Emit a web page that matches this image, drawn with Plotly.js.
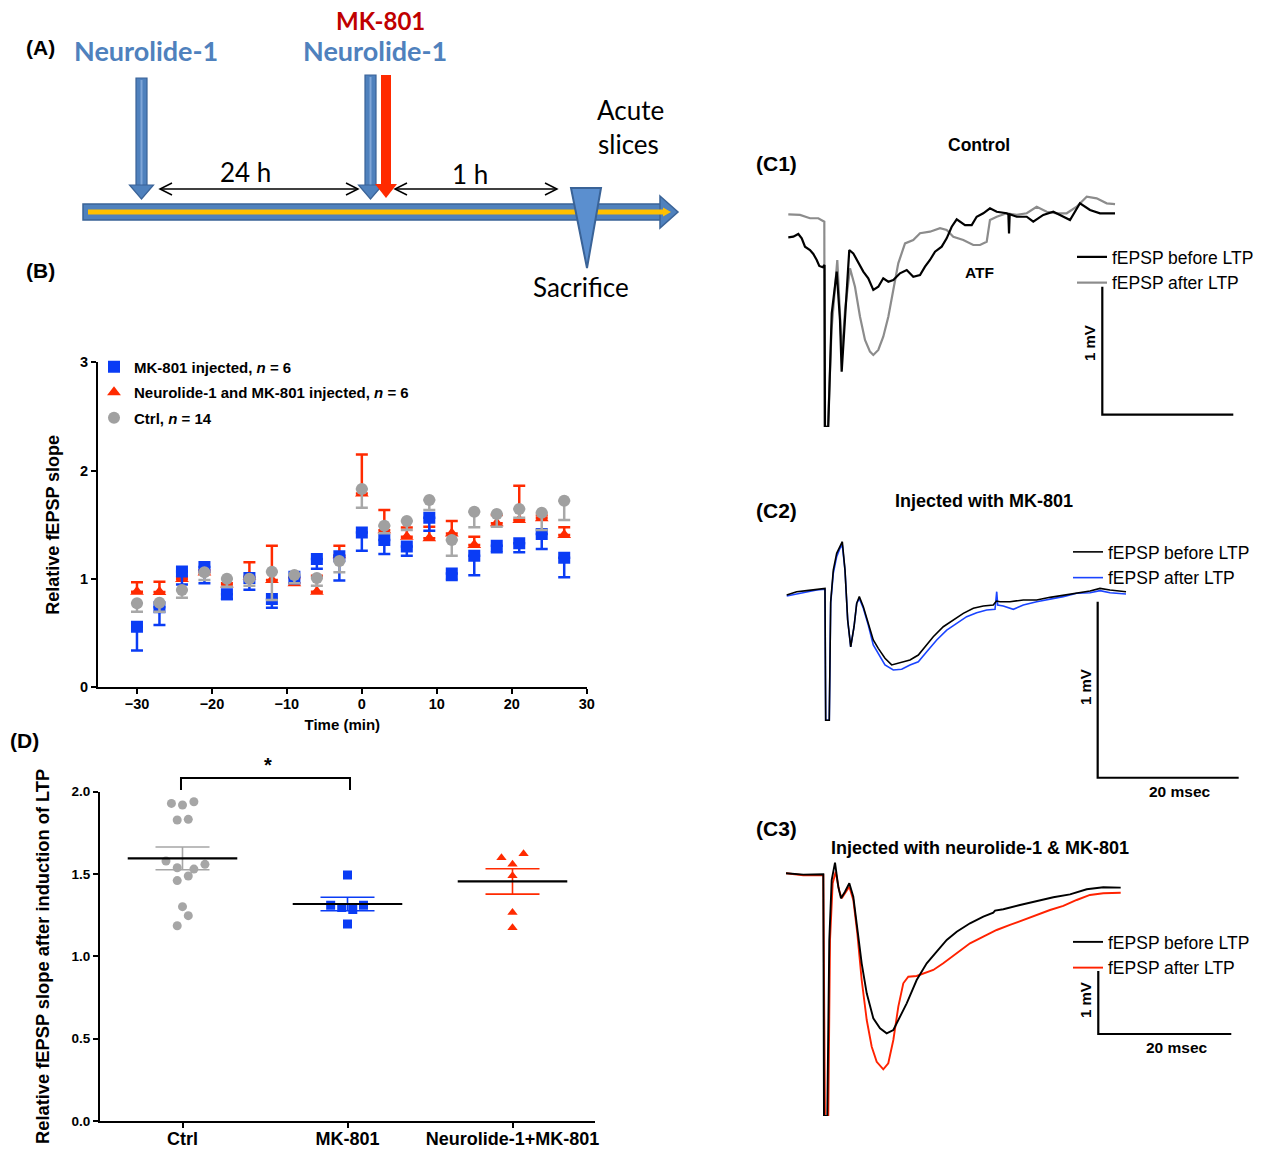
<!DOCTYPE html>
<html><head><meta charset="utf-8">
<script src="https://cdn.plot.ly/plotly-3.0.1.min.js"></script>
<style>html,body{margin:0;padding:0;background:#fff}</style>
</head><body><div id="chart" style="width:1268px;height:1149px"></div>
<script>
// ================= DATA =================
// Panel B: relative fEPSP slope over time (mean, SEM)
const timeMin   = [-30,-27,-24,-21,-18,-15,-12,-9,-6,-3,0,3,6,9,12,15,18,21,24,27];
const mkSlope   = [0.56,0.74,1.07,1.11,0.86,1.01,0.815,1.02,1.185,1.21,1.43,1.36,1.30,1.566,1.05,1.215,1.307,1.33,1.415,1.197];
const mkSem     = [0.22,0.165,0.12,0.15,0.045,0.11,0.08,0.06,0.09,0.225,0.17,0.13,0.085,0.12,0.06,0.18,0.06,0.084,0.138,0.18];
const nlSlope   = [0.883,0.88,1.0,1.06,0.95,1.02,0.99,0.96,0.883,1.22,1.79,1.45,1.39,1.376,1.42,1.314,1.514,1.545,1.56,1.406];
const nlSem     = [0.087,0.095,0.02,0.02,0.01,0.134,0.317,0.05,0.147,0.087,0.36,0.187,0.084,0.107,0.115,0.076,0.076,0.315,0.025,0.071];
const ctrlSlope = [0.775,0.78,0.898,1.062,1.003,1.003,1.067,1.037,1.009,1.166,1.831,1.492,1.535,1.729,1.36,1.621,1.60,1.646,1.612,1.723];
const ctrlSem   = [0.077,0.082,0.071,0.072,0.074,0.065,0.261,0.077,0.071,0.104,0.173,0.07,0.083,0.092,0.145,0.144,0.117,0.08,0.16,0.178];
const legendNames = ['MK-801 injected, <i>n</i> = 6','Neurolide-1 and MK-801 injected, <i>n</i> = 6','Ctrl, <i>n</i> = 14'];

// Panel D: individual slices, mean and SEM
const groups      = ['Ctrl','MK-801','Neurolide-1+MK-801'];
const dCtrlVals   = [1.929,1.919,1.939,1.828,1.832,1.579,1.538,1.530,1.559,1.460,1.488,1.302,1.247,1.186];
const dCtrlJitter = [-0.067,0,0.069,-0.032,0.035,-0.1,-0.032,0.069,0.136,-0.032,0.035,0,0.035,-0.032];
const dMkVals     = [1.494,1.310,1.296,1.285,1.310,1.196];
const dMkJitter   = [0,-0.102,-0.035,0.032,0.097,0];
const dNlVals     = [1.599,1.623,1.559,1.490,1.267,1.174];
const dNlJitter   = [-0.067,0.067,0,0,0,0];
const dMeans      = [1.595,1.318,1.455];
const dSems       = [0.069,0.041,0.077];

// Panel C traces (time in ms, potential in mV)
const c1BeforeT = [0,0.76,1.53,2.05,2.55,3.31,3.82,4.34,4.73,5.25,5.53,5.6,6.1,6.63,7.39,7.89,8.15,8.66,9.31,9.92,10.69,11.45,12.21,12.98,13.74,14.5,15.27,16.03,17.05,18.08,19.08,20.11,20.87,21.63,22.4,23.42,24.18,24.95,25.71,26.21,26.98,28,28.76,29.77,30.79,31.82,33.34,33.6,33.7,33.8,34.87,36.4,37.4,38.93,40.46,41.48,43.01,44.53,46.06,47.59,49.88];
const c1BeforeV = [-0.18,-0.175,-0.154,-0.188,-0.253,-0.279,-0.31,-0.357,-0.404,-0.414,-0.396,-1.66,-1.66,-0.773,-0.448,-0.826,-1.23,-0.773,-0.279,-0.305,-0.383,-0.448,-0.5,-0.591,-0.566,-0.5,-0.527,-0.513,-0.461,-0.435,-0.488,-0.474,-0.409,-0.357,-0.292,-0.253,-0.188,-0.097,-0.039,-0.058,-0.084,-0.084,-0.019,0.008,0.047,0.02,0.008,0.0,-0.15,0.0,-0.019,-0.019,-0.058,-0.005,0.02,-0.005,-0.045,0.086,0.034,0.008,0.008];
const c1AfterT  = [0,1.79,3.31,4.58,5.5,5.55,6.06,6.6,7.48,7.97,8.2,8.66,9.42,10.18,10.95,11.71,12.47,12.98,13.74,14.5,15.27,16.03,16.79,17.82,19.08,20.11,21.63,23.16,24.18,25.19,26.72,28.24,29.27,30.29,30.79,31.82,33.34,34.87,36.4,37.92,39.45,40.98,42.5,44.03,45.56,47.08,48.61,49.88];
const c1AfterV  = [0,-0.005,-0.031,-0.031,-0.058,-1.66,-1.66,-0.904,-0.357,-0.826,-1.099,-0.748,-0.422,-0.566,-0.8,-0.982,-1.073,-1.099,-1.06,-0.956,-0.8,-0.591,-0.383,-0.227,-0.201,-0.148,-0.136,-0.109,-0.123,-0.175,-0.201,-0.24,-0.24,-0.214,-0.045,-0.019,0.008,-0.005,0.008,0.059,0.02,0.008,0.008,0.059,0.138,0.125,0.086,0.08];

const c2BeforeT = [0,1.42,2.84,4.26,5.43,5.53,6.04,6.24,6.61,7.09,7.56,7.89,8.27,8.65,9.08,9.55,9.93,10.3,10.87,11.57,12.28,12.99,13.94,14.89,16.07,17.49,18.67,19.62,20.79,22.21,23.63,25.05,26.47,27.89,29.3,29.75,30.26,31.67,33.56,35.46,37.35,39.23,41.13,43.02,44.44,45.86,48.13];
const c2BeforeV = [-0.019,0,0.006,0.014,0.019,-0.73,-0.73,-0.057,0.123,0.218,0.256,0.284,0.123,-0.161,-0.313,-0.199,-0.066,-0.028,-0.085,-0.18,-0.274,-0.322,-0.378,-0.416,-0.403,-0.388,-0.36,-0.313,-0.256,-0.199,-0.161,-0.123,-0.094,-0.081,-0.076,-0.053,-0.057,-0.057,-0.047,-0.047,-0.032,-0.019,-0.006,0.004,0.019,0.01,0];
const c2AfterT  = [0,1.42,2.84,4.26,5.43,5.53,6.04,6.24,6.61,7.09,7.56,7.89,8.27,8.65,9.08,9.55,9.93,10.3,10.87,11.57,12.28,12.99,13.94,15.12,16.31,17.49,18.67,19.86,21.28,22.7,24.11,25.53,26.95,28.37,29.55,29.79,29.93,30.72,32.14,33.56,35.46,37.35,39.23,41.13,43.02,44.44,45.86,48.13];
const c2AfterV  = [-0.024,-0.013,0,0.01,0.014,-0.73,-0.73,-0.066,0.105,0.199,0.247,0.265,0.123,-0.161,-0.313,-0.199,-0.066,-0.038,-0.094,-0.189,-0.303,-0.35,-0.416,-0.445,-0.441,-0.416,-0.398,-0.341,-0.274,-0.218,-0.18,-0.142,-0.119,-0.104,-0.1,0,-0.076,-0.081,-0.1,-0.076,-0.057,-0.043,-0.028,-0.009,-0.006,0.006,-0.006,-0.013];

const c3BeforeT = [0,2.6,5.61,5.71,6.21,6.51,6.87,7.37,7.86,8.27,8.87,9.52,10.12,10.72,11.38,12.14,13.13,14.14,15.14,16.14,17.14,18.15,19.65,21.16,22.66,24.17,25.67,27.67,29.67,31.17,31.43,32.68,35.19,37.7,40.2,42.71,45.22,47.71,50.33];
const c3BeforeV = [0,-0.022,-0.016,-3.85,-3.85,-1.059,-0.107,0.168,-0.213,-0.396,-0.292,-0.159,-0.372,-0.848,-1.429,-1.905,-2.301,-2.46,-2.54,-2.488,-2.276,-2.064,-1.694,-1.429,-1.244,-1.059,-0.927,-0.794,-0.689,-0.626,-0.593,-0.571,-0.503,-0.439,-0.381,-0.334,-0.254,-0.222,-0.228];
const c3AfterT  = [0,2.6,5.61,5.86,6.36,6.62,7.02,7.47,7.97,8.38,9.02,9.52,10.12,10.72,11.38,12.14,12.89,13.64,14.63,15.38,16.14,16.89,17.64,18.39,19.65,20.9,22.15,23.65,25.67,27.67,29.67,31.68,33.68,35.68,37.7,39.7,41.7,43.71,45.71,47.71,50.33];
const c3AfterV  = [0,-0.031,-0.027,-3.85,-3.85,-1.059,-0.159,0.025,-0.265,-0.396,-0.292,-0.213,-0.424,-0.952,-1.694,-2.329,-2.752,-2.991,-3.111,-3.016,-2.646,-2.117,-1.746,-1.641,-1.63,-1.587,-1.535,-1.429,-1.27,-1.111,-1.006,-0.9,-0.82,-0.74,-0.662,-0.583,-0.519,-0.424,-0.344,-0.317,-0.308];

// ================= STYLE / LAYOUT =================
const W = 1268, H = 1149;
const FONT = 'Liberation Sans, Arial, sans-serif';
const AFONT = 'Lato, sans-serif';
const BLUE = '#0a3cf5', RED = '#ff2a00', GRAY = '#a0a0a0';
const fx = p => p / W, fy = p => 1 - p / H;
const dom = (a, b, n) => [a / n, b / n];
const ydom = (top, bot) => [1 - bot / H, 1 - top / H];
const zeros = timeMin.map(() => 0);

function pth(pts, close) {
  return pts.map((p, i) => (i ? 'L' : 'M') + fx(p[0]).toFixed(5) + ',' + fy(p[1]).toFixed(5)).join(' ') + (close ? ' Z' : '');
}
function pathShape(pts, close, fill, lc, lw) {
  return {type:'path', xref:'paper', yref:'paper', path:pth(pts, close),
    fillcolor: fill || 'rgba(0,0,0,0)', line:{color: lc || 'rgba(0,0,0,0)', width: lw || 0}};
}
function rectShape(x0, y0, x1, y1, fill, lc, lw) {
  return {type:'rect', xref:'paper', yref:'paper', x0:fx(x0), x1:fx(x1), y0:fy(y1), y1:fy(y0),
    fillcolor: fill, line:{color: lc || 'rgba(0,0,0,0)', width: lw || 0}};
}
function txt(t, x, y, size, opts) {
  opts = opts || {};
  return Object.assign({xref:'paper', yref:'paper', x:fx(x), y:fy(y), text:t, showarrow:false,
    xanchor:'center', yanchor:'middle',
    font:{family: opts.family || FONT, size:size, color: opts.color || '#000', weight: opts.weight || 'normal'}},
    opts.textangle !== undefined ? {textangle: opts.textangle} : {});
}

const traces = [];
// ---- Panel B ----
traces.push({type:'scatter', mode:'markers', x:timeMin, y:nlSlope, xaxis:'x', yaxis:'y',
  name:legendNames[1], legendgroup:'g2', legendrank:2,
  marker:{symbol:'triangle-up', size:12, color:RED},
  error_y:{type:'data', symmetric:false, array:nlSem, arrayminus:zeros, color:RED, thickness:2.5, width:6}});
traces.push({type:'scatter', mode:'markers', x:timeMin, y:mkSlope, xaxis:'x', yaxis:'y',
  name:legendNames[0], legendgroup:'g1', legendrank:1,
  marker:{symbol:'square', size:12, color:BLUE},
  error_y:{type:'data', symmetric:false, array:zeros, arrayminus:mkSem, color:BLUE, thickness:2.5, width:6}});
traces.push({type:'scatter', mode:'markers', x:timeMin, y:ctrlSlope, xaxis:'x', yaxis:'y',
  name:legendNames[2], legendgroup:'g3', legendrank:3,
  marker:{symbol:'circle', size:12, color:GRAY},
  error_y:{type:'data', symmetric:false, array:zeros, arrayminus:ctrlSem, color:'#a8a8a8', thickness:2.5, width:6}});

// ---- Panel D ----
const dSets = [
  {vals:dCtrlVals, jit:dCtrlJitter, sym:'circle', col:'#a6a6a6', size:9},
  {vals:dMkVals, jit:dMkJitter, sym:'square', col:BLUE, size:9},
  {vals:dNlVals, jit:dNlJitter, sym:'triangle-up', col:RED, size:9}
];
dSets.forEach((s, g) => {
  traces.push({type:'scatter', mode:'markers', xaxis:'x2', yaxis:'y2', showlegend:false,
    x:s.jit.map(j => g + j), y:s.vals, name:groups[g],
    marker:{symbol:s.sym, size:s.size, color:s.col}});
});
dSets.forEach((s, g) => {
  traces.push({type:'scatter', mode:'markers', xaxis:'x2', yaxis:'y2', showlegend:false,
    x:[g], y:[dMeans[g]], name:groups[g] + ' mean', hoverinfo:'skip',
    marker:{size:1, opacity:0},
    error_y:{type:'data', array:[dSems[g]], color:s.col, thickness:1.6, width:27},
    error_x:{type:'constant', value:0.332, color:'#000', thickness:2.2, width:0}});
});

// ---- Panel C ----
const cDefs = [
  {ax:'3', leg:'legend2', bT:c1BeforeT, bV:c1BeforeV, aT:c1AfterT, aV:c1AfterV, aCol:'#8c8c8c', lw:2.2},
  {ax:'4', leg:'legend3', bT:c2BeforeT, bV:c2BeforeV, aT:c2AfterT, aV:c2AfterV, aCol:'#1a44ff', lw:1.6},
  {ax:'5', leg:'legend4', bT:c3BeforeT, bV:c3BeforeV, aT:c3AfterT, aV:c3AfterV, aCol:'#ff2200', lw:1.9}
];
cDefs.forEach(c => {
  traces.push({type:'scatter', mode:'lines', xaxis:'x'+c.ax, yaxis:'y'+c.ax, legend:c.leg, legendrank:2,
    x:c.aT, y:c.aV, name:'fEPSP after LTP', line:{color:c.aCol, width:c.lw}});
  traces.push({type:'scatter', mode:'lines', xaxis:'x'+c.ax, yaxis:'y'+c.ax, legend:c.leg, legendrank:1,
    x:c.bT, y:c.bV, name:'fEPSP before LTP', line:{color:'#000', width:c.lw}});
});

const axLine = {showline:true, linewidth:2, linecolor:'#000', ticks:'outside', ticklen:5, tickwidth:2,
  tickcolor:'#000', showgrid:false, zeroline:false, automargin:false, fixedrange:true};
const hidden = {visible:false, fixedrange:true, showgrid:false, zeroline:false};

const shapes = [];
// ---- Panel A schematic ----
shapes.push(rectShape(83, 204, 662, 220, '#4f81bd', '#3a6397', 1.5));
shapes.push(pathShape([[660,196],[678,212],[660,228]], true, '#4f81bd', '#3a6397', 1.5));
shapes.push(rectShape(88, 209.5, 664, 214.5, '#ffc000'));
shapes.push(pathShape([[663,207.5],[671,212],[663,216.5]], true, '#ffc000'));
shapes.push(pathShape([[571,188],[601,188],[587,268]], true, '#5b8fcf', '#3a6397', 2));
// injection arrows
[[141.5,78],[370.5,75]].forEach(a => {
  shapes.push(rectShape(a[0]-5.5, a[1], a[0]+5.5, 186, '#4f81bd', '#3a6397', 1.2));
  shapes.push(pathShape([[a[0],a[1]+2],[a[0],185]], false, null, '#7fa6d8', 2));
  shapes.push(pathShape([[a[0]-12,185],[a[0]+12,185],[a[0],199]], true, '#4f81bd', '#3a6397', 1.2));
});
shapes.push(rectShape(381, 75, 391, 186, '#ff2a00'));
shapes.push(pathShape([[375,184],[397,184],[386,198]], true, '#ff2a00'));
// interval double arrows
[[160,358],[395,557]].forEach(a => {
  shapes.push(pathShape([[a[0],189],[a[1],189]], false, null, '#000', 1.5));
  shapes.push(pathShape([[a[0]+12,183],[a[0],189],[a[0]+12,195]], false, null, '#000', 1.5));
  shapes.push(pathShape([[a[1]-12,183],[a[1],189],[a[1]-12,195]], false, null, '#000', 1.5));
});
// ---- Panel D significance bracket ----
shapes.push(pathShape([[181,790],[181,778],[350,778],[350,790]], false, null, '#000', 2));
// ---- Scale bars (in data units of each trace panel) ----
const sb = (ax, x0, x1, yTop, yBot) => ({type:'path', xref:'x'+ax, yref:'y'+ax,
  path:`M${x0},${yTop} L${x0},${yBot} L${x1},${yBot}`, line:{color:'#000', width:2.2}});
shapes.push(sb('3', 47.94, 67.94, -0.566, -1.566));
shapes.push(sb('4', 44.11, 64.11, -0.057, -1.057));
shapes.push(sb('5', 46.96, 66.96, -1.551, -2.551));

const B = {weight:'bold'};
const annotations = [
  txt('(A)', 40, 47, 21, B), txt('(B)', 40, 270, 21, B), txt('(D)', 24, 740, 21, B),
  txt('(C1)', 776, 164, 21, B), txt('(C2)', 776, 511, 21, B), txt('(C3)', 776, 828, 21, B),
  txt('Neurolide-1', 146, 50, 27, {family:AFONT, color:'#4f81bd', weight:'bold'}),
  txt('Neurolide-1', 375, 50, 27, {family:AFONT, color:'#4f81bd', weight:'bold'}),
  txt('MK-801', 380, 20, 24, {family:AFONT, color:'#c00000', weight:'bold'}),
  txt('24 h', 245, 172, 26, {family:AFONT}),
  txt('1 h', 470, 174, 26, {family:AFONT}),
  txt('Acute', 630, 110, 26, {family:AFONT}),
  txt('slices', 628, 144, 26, {family:AFONT}),
  txt('Sacrifice', 581, 287, 26, {family:AFONT}),
  txt('Control', 979, 145, 17.5, B),
  txt('ATF', 979, 273, 15.5, B),
  txt('Injected with MK-801', 984, 501, 18, B),
  txt('Injected with neurolide-1 &amp; MK-801', 980, 848, 18, B),
  txt('1 mV', 1089, 343, 15, {weight:'bold', textangle:-90}),
  txt('1 mV', 1085, 687, 15, {weight:'bold', textangle:-90}),
  txt('20 msec', 1180, 791, 15.5, B),
  txt('1 mV', 1085, 1000, 15, {weight:'bold', textangle:-90}),
  txt('20 msec', 1177, 1047, 15.5, B),
  txt('*', 268, 765, 20, B)
];

const legC = (left, top) => ({x:fx(left), y:fy(top), xanchor:'left', yanchor:'top', bgcolor:'rgba(0,0,0,0)',
  borderwidth:0, font:{family:FONT, size:17.5, color:'#000'}, traceorder:'normal'});

const layout = {
  width:W, height:H, margin:{l:0, r:0, t:0, b:0},
  paper_bgcolor:'#fff', plot_bgcolor:'rgba(0,0,0,0)',
  font:{family:FONT, color:'#000'}, showlegend:true, hovermode:false,
  // Panel B
  xaxis:Object.assign({}, axLine, {domain:dom(98, 586.7, W), range:[-35.2, 30], anchor:'y',
    tickmode:'linear', tick0:-30, dtick:10, ticklabelstandoff:-3,
    tickfont:{family:FONT, size:14.5, weight:'bold'},
    title:{text:'Time (min)', font:{family:FONT, size:15, weight:'bold'}, standoff:9}}),
  yaxis:Object.assign({}, axLine, {domain:ydom(362.3, 687.3), range:[0, 3], anchor:'x',
    tickmode:'linear', tick0:0, dtick:1,
    tickfont:{family:FONT, size:14.5, weight:'bold'},
    title:{text:'Relative fEPSP slope', font:{family:FONT, size:18, weight:'bold'}, standoff:16}}),
  // Panel D
  xaxis2:Object.assign({}, axLine, {domain:dom(100, 595, W), range:[-0.5, 2.5], anchor:'y2',
    tickmode:'array', tickvals:[0,1,2], ticktext:groups, ticklabelstandoff:-5,
    tickfont:{family:FONT, size:18, weight:'bold'}}),
  yaxis2:Object.assign({}, axLine, {domain:ydom(791.7, 1121), range:[0, 2], anchor:'x2',
    tickmode:'array', tickvals:[0,0.5,1,1.5,2], tickformat:'.1f',
    tickfont:{family:FONT, size:13.5, weight:'bold'},
    title:{text:'Relative fEPSP slope after induction of LTP', font:{family:FONT, size:18.3, weight:'bold'}, standoff:17}}),
  // Panel C1-C3 (ms, mV)
  xaxis3:Object.assign({}, hidden, {domain:dom(780, 1250, W), range:[-1.267, 70.489], anchor:'y3'}),
  yaxis3:Object.assign({}, hidden, {domain:ydom(185, 427), range:[-1.662, 0.229], anchor:'x3'}),
  xaxis4:Object.assign({}, hidden, {domain:dom(780, 1250, W), range:[-0.950, 65.716], anchor:'y4'}),
  yaxis4:Object.assign({}, hidden, {domain:ydom(525, 790), range:[-1.1267, 0.3790], anchor:'x4'}),
  xaxis5:Object.assign({}, hidden, {domain:dom(780, 1250, W), range:[-0.902, 69.774], anchor:'y5'}),
  yaxis5:Object.assign({}, hidden, {domain:ydom(855, 1116), range:[-3.852, 0.290], anchor:'x5'}),
  legend:{x:fx(94), y:fy(350.5), xanchor:'left', yanchor:'top', bgcolor:'rgba(0,0,0,0)', borderwidth:0,
    font:{family:FONT, size:15, weight:'bold', color:'#000'}, traceorder:'grouped', tracegroupgap:3},
  legend2:legC(1072, 239),
  legend3:legC(1068, 534),
  legend4:legC(1068, 924),
  shapes:shapes, annotations:annotations
};

Plotly.newPlot('chart', traces, layout, {displayModeBar:false, staticPlot:true});
</script>
</body></html>
